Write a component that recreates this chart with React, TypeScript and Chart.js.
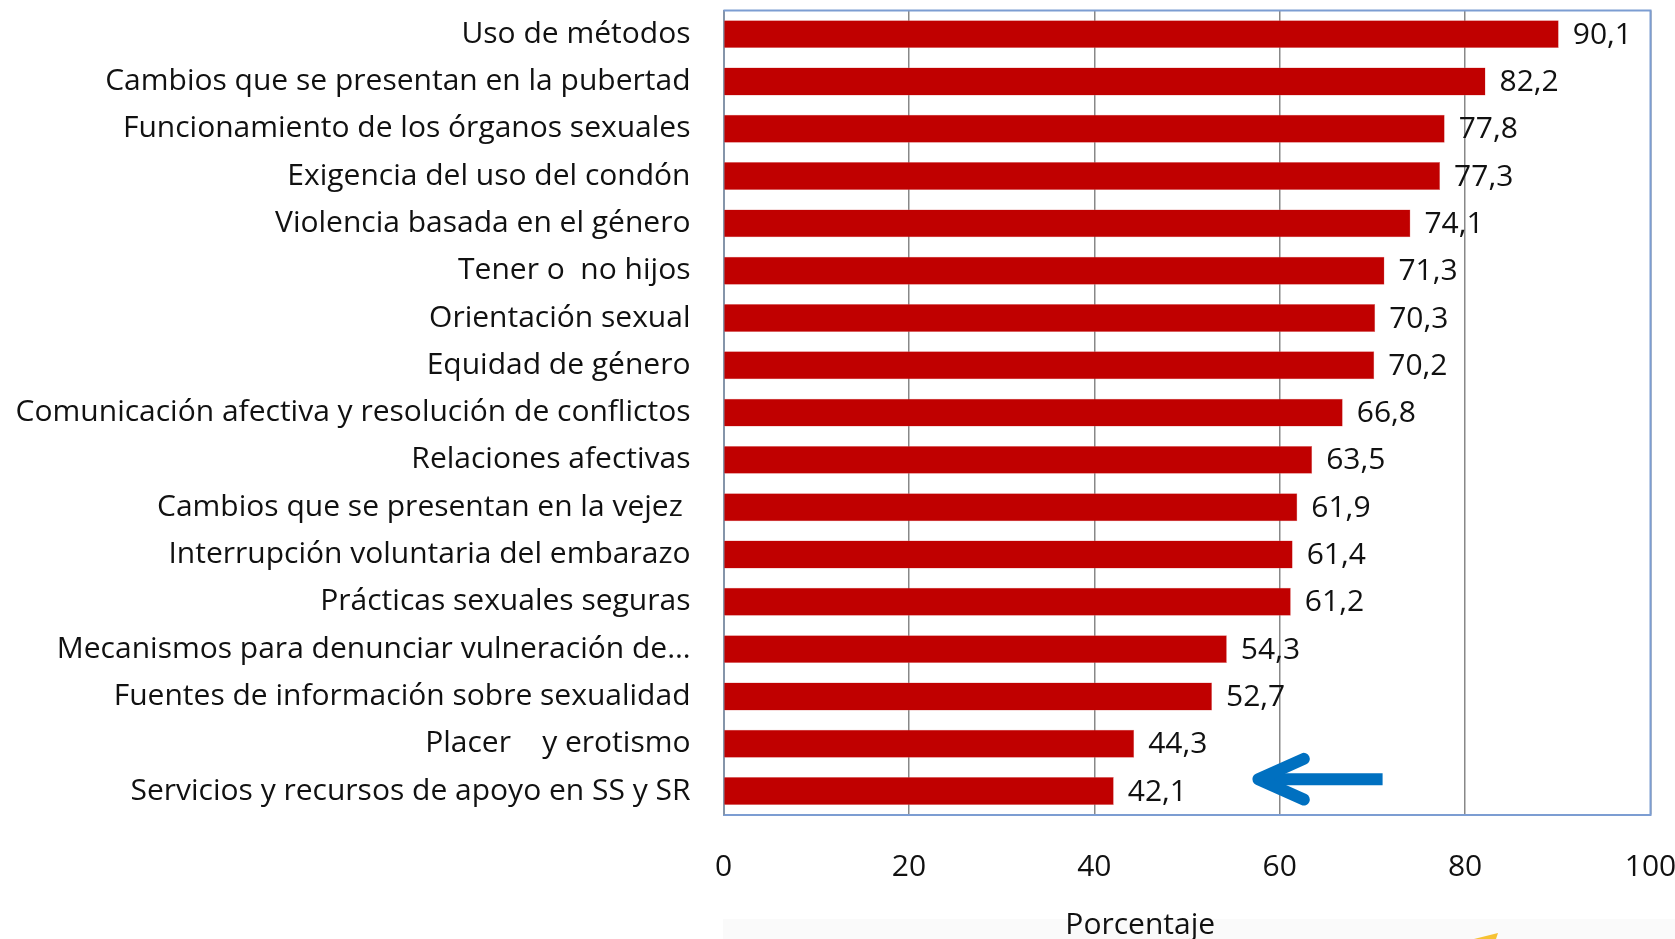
import React, { useEffect, useRef } from "react";
import { Chart, registerables } from "chart.js";

Chart.register(...registerables);

const categories: string[] = [
  "Uso de métodos",
  "Cambios que se presentan en la pubertad",
  "Funcionamiento de los órganos sexuales",
  "Exigencia del uso del condón",
  "Violencia basada en el género",
  "Tener o  no hijos",
  "Orientación sexual",
  "Equidad de género",
  "Comunicación afectiva y resolución de conflictos",
  "Relaciones afectivas",
  "Cambios que se presentan en la vejez ",
  "Interrupción voluntaria del embarazo",
  "Prácticas sexuales seguras",
  "Mecanismos para denunciar vulneración de…",
  "Fuentes de información sobre sexualidad",
  "Placer    y erotismo",
  "Servicios y recursos de apoyo en SS y SR",
];

const percentages: number[] = [
  90.1, 82.2, 77.8, 77.3, 74.1, 71.3, 70.3, 70.2, 66.8, 63.5, 61.9, 61.4, 61.2, 54.3, 52.7, 44.3, 42.1,
];

const xTicks: number[] = [0, 20, 40, 60, 80, 100];
const xTitle = "Porcentaje";

// arrow annotation in data units: [value, category index]
const arrowTail: number[] = [71.1, 15.75];
const arrowTip: number[] = [57.7, 15.75];
const arrowHeadBack = 62.6;
const arrowHeadSpread = 0.43;

const FONT = "'Open Sans', 'Noto Sans', sans-serif";
const FONT_SIZE = 30;

export default function App() {
  const canvasRef = useRef<HTMLCanvasElement | null>(null);

  useEffect(() => {
    document.body.style.margin = "0";
    const canvas = canvasRef.current;
    if (!canvas) return;

    const decoPlugin = {
      id: "deco",
      beforeDraw(chart: any) {
        const ctx = chart.ctx;
        ctx.save();
        ctx.fillStyle = "#ffffff";
        ctx.fillRect(0, 0, chart.width, chart.height);
        ctx.fillStyle = "#fafafa";
        ctx.fillRect(723, 919, chart.width - 723, chart.height - 919);
        ctx.fillStyle = "#f6c233";
        ctx.beginPath();
        ctx.moveTo(1474, 939);
        ctx.lineTo(1498, 933);
        ctx.lineTo(1496, 939);
        ctx.closePath();
        ctx.fill();
        ctx.restore();
      },
      afterDatasetsDraw(chart: any) {
        const ctx = chart.ctx;
        const meta = chart.getDatasetMeta(0);
        ctx.save();
        ctx.font = `${FONT_SIZE}px ${FONT}`;
        ctx.fillStyle = "#111111";
        ctx.textAlign = "left";
        ctx.textBaseline = "middle";
        meta.data.forEach((bar: any, i: number) => {
          const v = percentages[i];
          ctx.fillText(v.toFixed(1).replace(".", ","), bar.x + 14, bar.y + 1);
        });
        ctx.restore();

        // frame around plot area
        const a = chart.chartArea;
        ctx.save();
        ctx.strokeStyle = "#7c9dd2";
        ctx.lineWidth = 2;
        ctx.beginPath();
        ctx.moveTo(a.left, a.top);
        ctx.lineTo(a.right, a.top);
        ctx.lineTo(a.right, a.bottom);
        ctx.stroke();
        ctx.restore();

        // arrow annotation
        const xs = chart.scales.x;
        const ys = chart.scales.y;
        const tx = xs.getPixelForValue(arrowTip[0]);
        const ty = ys.getPixelForValue(arrowTip[1]);
        const sx = xs.getPixelForValue(arrowTail[0]);
        const sy = ys.getPixelForValue(arrowTail[1]);
        const hx = xs.getPixelForValue(arrowHeadBack);
        const hy1 = ys.getPixelForValue(arrowTip[1] - arrowHeadSpread);
        const hy2 = ys.getPixelForValue(arrowTip[1] + arrowHeadSpread);
        ctx.save();
        ctx.strokeStyle = "#0070c0";
        ctx.lineWidth = 12;
        ctx.lineCap = "butt";
        ctx.beginPath();
        ctx.moveTo(sx, sy);
        ctx.lineTo(tx + 4, ty);
        ctx.stroke();
        ctx.lineCap = "round";
        ctx.lineJoin = "round";
        ctx.beginPath();
        ctx.moveTo(hx, hy1);
        ctx.lineTo(tx, ty);
        ctx.lineTo(hx, hy2);
        ctx.stroke();
        ctx.restore();
      },
    };

    const zeroPad = (scale: any) => {
      scale.paddingTop = 0;
      scale.paddingBottom = 0;
      scale.paddingLeft = 0;
      scale.paddingRight = 0;
    };

    const chart = new Chart(canvas, {
      type: "bar",
      data: {
        labels: categories,
        datasets: [
          {
            data: percentages,
            backgroundColor: "#c00000",
            borderColor: "#e07a7a",
            borderWidth: 0.5,
            barPercentage: 0.59,
            categoryPercentage: 1,
          },
        ],
      },
      options: {
        indexAxis: "y",
        animation: false,
        responsive: true,
        maintainAspectRatio: false,
        layout: { padding: { left: 0, top: 10.5, right: 24.5, bottom: 0 } },
        plugins: {
          legend: { display: false },
          tooltip: { enabled: false },
        },
        scales: {
          x: {
            min: 0,
            max: 100,
            afterBuildTicks: (scale: any) => {
              scale.ticks = xTicks.map((v) => ({ value: v }));
            },
            afterFit: (scale: any) => {
              scale.height = 939 - 814.7;
              zeroPad(scale);
            },
            grid: {
              display: true,
              color: "#888888",
              lineWidth: 1.5,
              drawTicks: false,
            },
            border: { display: true, color: "#7c9dd2", width: 2 },
            ticks: {
              padding: 35,
              color: "#111111",
              font: { family: FONT, size: FONT_SIZE },
              maxRotation: 0,
            },
            title: {
              display: true,
              text: xTitle + "            ",
              color: "#111111",
              font: { family: FONT, size: FONT_SIZE, lineHeight: 1 },
              padding: { top: 0, bottom: -1 },
            },
          },
          y: {
            afterFit: (scale: any) => {
              scale.width = 723.5;
              zeroPad(scale);
            },
            grid: { display: false, drawTicks: false },
            border: { display: true, color: "#8595aa", width: 2 },
            ticks: {
              padding: 33,
              color: "#111111",
              font: { family: FONT, size: FONT_SIZE },
              autoSkip: false,
            },
          },
        },
      },
      plugins: [decoPlugin],
    });

    return () => chart.destroy();
  }, []);

  return (
    <div style={{ position: "absolute", left: 0, top: 0, width: 1675, height: 939 }}>
      <canvas ref={canvasRef} />
    </div>
  );
}
